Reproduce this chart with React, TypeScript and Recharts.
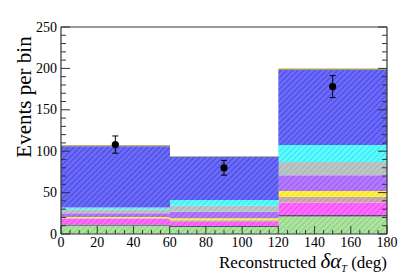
import React from 'react';
import { ComposedChart, Bar, Scatter, ErrorBar, XAxis, YAxis, ReferenceLine } from 'recharts';

const binCenters = [30, 90, 150];

// stacked components, bottom to top
const green = [10, 8.5, 21];
const dark = [1.5, 1.2, 2];
const magenta = [6.5, 4.8, 15];
const tan = [1, 2, 7];
const yellow = [1.5, 2.5, 7];
const purple = [4.5, 8, 19];
const gray = [5, 7, 16];
const cyan = [2, 7, 20.5];
const blue = [74, 52, 90.5];
const topGreen = [0.8, 0.6, 1];
const topOrange = [0.7, 0.4, 1];

const dataPoints = [108, 80, 178];
const dataErrors = [10.4, 8.9, 13.3];

const xTicks = [0, 5, 10, 15, 20, 25, 30, 35, 40, 45, 50, 55, 60, 65, 70, 75, 80, 85, 90, 95, 100, 105, 110, 115, 120, 125, 130, 135, 140, 145, 150, 155, 160, 165, 170, 175, 180];
const yTicks = [0, 10, 20, 30, 40, 50, 60, 70, 80, 90, 100, 110, 120, 130, 140, 150, 160, 170, 180, 190, 200, 210, 220, 230, 240, 250];

const layers = [
  { key: 'green', values: green, base: '#aee4a2', line: '#8cd07e' },
  { key: 'dark', values: dark, base: '#5a5a70', line: '#44445a' },
  { key: 'magenta', values: magenta, base: '#ff6cff', line: '#ec48f0' },
  { key: 'tan', values: tan, base: '#ccaeb2', line: '#b8969a' },
  { key: 'yellow', values: yellow, base: '#fff43c', line: '#f4da2a' },
  { key: 'purple', values: purple, base: '#b47aff', line: '#9a5cf2' },
  { key: 'gray', values: gray, base: '#bcc8c8', line: '#a6b2b2' },
  { key: 'cyan', values: cyan, base: '#5cfcff', line: '#38e2f0' },
  { key: 'blue', values: blue, base: '#6c6cf8', line: '#4848e4' },
  { key: 'topGreen', values: topGreen, base: '#3e9e3e', line: '#3e9e3e' },
  { key: 'topOrange', values: topOrange, base: '#e88a44', line: '#e88a44' },
];

const tableData = binCenters.map((center, i) => {
  const row: any = { center, data: dataPoints[i], err: dataErrors[i] };
  layers.forEach((l) => (row[l.key] = l.values[i]));
  return row;
});

const W = 407;
const H = 276;
const LEFT = 61;
const RIGHT = 387;
const TOP = 27;
const BOTTOM = 234;
const FONT = '"Liberation Serif", "Times New Roman", Times, serif';

const XTick = ({ x, payload }: any) => {
  const v = payload.value;
  const major = v % 20 === 0;
  const len = major ? 8 : 4;
  return (
    <g>
      <line x1={x} x2={x} y1={BOTTOM} y2={BOTTOM - len} stroke="#333" strokeWidth={1} />
      {major && (
        <text x={x} y={247} textAnchor="middle" fontSize={14} fontFamily={FONT} fill="#000">
          {v}
        </text>
      )}
    </g>
  );
};

const YTick = ({ y, payload }: any) => {
  const v = payload.value;
  const major = v % 50 === 0;
  const len = major ? 9 : 5;
  return (
    <g>
      <line x1={LEFT} x2={LEFT + len} y1={y} y2={y} stroke="#333" strokeWidth={1} />
      <line x1={RIGHT} x2={RIGHT - len} y1={y} y2={y} stroke="#333" strokeWidth={1} />
      {major && (
        <text x={57} y={y + 4.5} textAnchor="end" fontSize={14} fontFamily={FONT} fill="#000">
          {v}
        </text>
      )}
    </g>
  );
};

const Dot = ({ cx, cy }: any) => <circle cx={cx} cy={cy} r={3.6} fill="#000" />;

export default function App() {
  return (
    <div style={{ position: 'absolute', left: 0, top: 0, width: W, height: H, background: '#fff' }}>
      <ComposedChart
        width={W}
        height={H}
        data={tableData}
        margin={{ top: TOP, right: W - RIGHT, bottom: 0, left: 0 }}
        barCategoryGap={0}
        barGap={0}
      >
        <defs>
          {layers.map((l) => (
            <pattern
              key={l.key}
              id={`hatch-${l.key}`}
              patternUnits="userSpaceOnUse"
              width={4}
              height={4}
              patternTransform="rotate(45)"
            >
              <rect x={0} y={0} width={4} height={4} fill={l.base} />
              <line x1={0.5} y1={0} x2={0.5} y2={4} stroke={l.line} strokeWidth={1.2} />
            </pattern>
          ))}
        </defs>
        <XAxis
          dataKey="center"
          type="number"
          domain={[0, 180]}
          ticks={xTicks}
          interval={0}
          height={H - BOTTOM}
          tick={<XTick />}
          tickLine={false}
          axisLine={{ stroke: '#333', strokeWidth: 1.2 }}
          allowDataOverflow
        />
        <YAxis
          type="number"
          domain={[0, 250]}
          ticks={yTicks}
          interval={0}
          width={LEFT}
          tick={<YTick />}
          tickLine={false}
          axisLine={{ stroke: '#333', strokeWidth: 1.2 }}
          allowDataOverflow
        />
        {layers.map((l) => (
          <Bar
            key={l.key}
            dataKey={l.key}
            stackId="mc"
            fill={`url(#hatch-${l.key})`}
            isAnimationActive={false}
          />
        ))}
        <ReferenceLine y={250} stroke="#333" strokeWidth={1.2} />
        <ReferenceLine x={180} stroke="#333" strokeWidth={1.2} />
        <Scatter dataKey="data" shape={<Dot />} isAnimationActive={false}>
          <ErrorBar dataKey="err" direction="y" width={3} stroke="#000" strokeWidth={1} />
        </Scatter>
      </ComposedChart>
      <div
        style={{
          position: 'absolute',
          left: 24,
          top: 97,
          transform: 'translate(-50%, -50%) rotate(-90deg)',
          whiteSpace: 'nowrap',
          fontFamily: FONT,
          fontSize: 21,
          color: '#000',
        }}
      >
        Events per bin
      </div>
      <div
        style={{
          position: 'absolute',
          right: W - RIGHT,
          top: 250,
          whiteSpace: 'nowrap',
          fontFamily: FONT,
          fontSize: 17,
          color: '#000',
          lineHeight: '22px',
        }}
      >
        Reconstructed{' '}
        <span style={{ fontStyle: 'italic', fontSize: 21, lineHeight: '22px' }}>
          δα<sub style={{ fontSize: 10, verticalAlign: '-4px', lineHeight: '10px' }}>T</sub>
        </span>{' '}
        (deg)
      </div>
    </div>
  );
}
